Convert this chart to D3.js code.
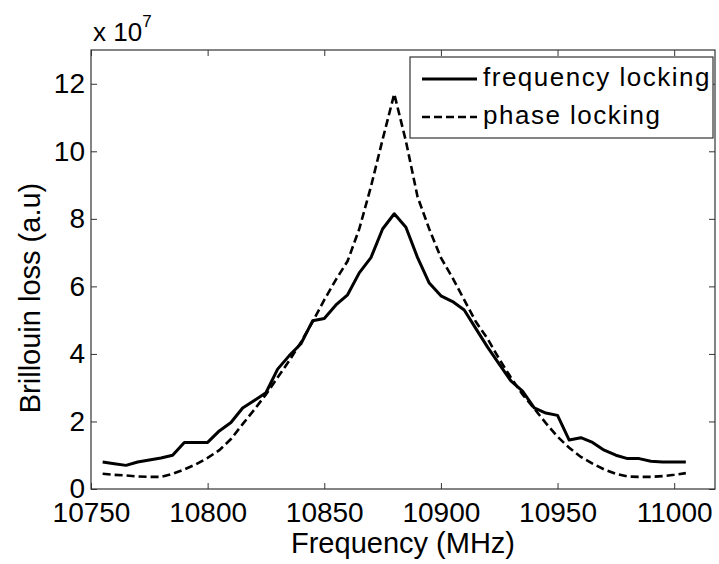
<!DOCTYPE html>
<html>
<head>
<meta charset="utf-8">
<script src="https://cdn.jsdelivr.net/npm/d3@7"></script>
<style>
  body { margin: 0; background: #fff; }
  text { font-family: Arial, "Liberation Sans", Helvetica, sans-serif; fill: #000; }
</style>
</head>
<body>
<div id="graphic"></div>
<script>
// frequency axis, MHz (one sample every 5 MHz)
var freqs = d3.range(10755, 11006, 5);

// Brillouin loss, units of 1e7
var freqLocking = [0.80, 0.75, 0.70, 0.80, 0.86, 0.92, 1.00, 1.38, 1.38, 1.38,
                   1.72, 1.97, 2.40, 2.62, 2.85, 3.55, 3.95, 4.30, 4.98, 5.05,
                   5.45, 5.75, 6.40, 6.85, 7.70, 8.15, 7.75, 6.85, 6.10, 5.72,
                   5.55, 5.30, 4.75, 4.20, 3.70, 3.20, 2.90, 2.40, 2.25, 2.18,
                   1.45, 1.52, 1.38, 1.15, 1.00, 0.90, 0.90, 0.82, 0.80, 0.80, 0.80];

var phaseLocking = [0.45, 0.42, 0.40, 0.37, 0.36, 0.36, 0.45, 0.58, 0.73, 0.92,
                    1.15, 1.48, 1.92, 2.35, 2.80, 3.30, 3.80, 4.35, 4.95, 5.60,
                    6.20, 6.75, 7.70, 8.95, 10.35, 11.70, 10.30, 8.65, 7.70, 6.85,
                    6.25, 5.60, 4.95, 4.45, 3.85, 3.30, 2.80, 2.38, 1.95, 1.55,
                    1.22, 0.95, 0.75, 0.58, 0.45, 0.37, 0.36, 0.36, 0.38, 0.42, 0.47];

var xTicks = [10750, 10800, 10850, 10900, 10950, 11000];
var yTicks = [0, 2, 4, 6, 8, 10, 12];
var seriesNames = ["frequency locking", "phase locking"];

var svg = d3.select("#graphic").append("svg")
        .attr("width", 719)
        .attr("height", 564);

var x = d3.scaleLinear().domain([10750, 11017.5]).range([91, 715]);
var y = d3.scaleLinear().domain([0, 13]).range([489, 50]);

var frameColor = "#333";

// axes, ticks pointing inward
svg.append("g")
        .attr("transform", "translate(0,489)")
        .call(d3.axisBottom(x).tickValues(xTicks).tickFormat(d3.format("d"))
                .tickSizeInner(-6).tickSizeOuter(0).tickPadding(13));
svg.append("g")
        .attr("transform", "translate(0,50)")
        .call(d3.axisTop(x).tickValues(xTicks).tickSizeInner(-6).tickSizeOuter(0).tickFormat(""));
svg.append("g")
        .attr("transform", "translate(91,0)")
        .call(d3.axisLeft(y).tickValues(yTicks).tickFormat(d3.format("d"))
                .tickSizeInner(-6).tickSizeOuter(0).tickPadding(6));
svg.append("g")
        .attr("transform", "translate(715,0)")
        .call(d3.axisRight(y).tickValues(yTicks).tickSizeInner(-6).tickSizeOuter(0).tickFormat(""));

svg.selectAll(".domain").remove();
svg.selectAll(".tick line").style("stroke", frameColor);
svg.selectAll(".tick text")
        .style("font-size", "28px")
        .style("font-family", "Arial, 'Liberation Sans', sans-serif");

// box
svg.append("rect")
        .attr("x", 91)
        .attr("y", 50)
        .attr("width", 715 - 91)
        .attr("height", 489 - 50)
        .style("fill", "none")
        .style("stroke", frameColor)
        .style("stroke-width", 1.2);

// lines
var line = function(vals) {
  return d3.line()
        .x(function(d, i) { return x(freqs[i]); })
        .y(function(d) { return y(d); })(vals);
};

svg.append("path")
        .attr("d", line(phaseLocking))
        .style("fill", "none")
        .style("stroke", "#000")
        .style("stroke-width", 2.6)
        .style("stroke-dasharray", "8,4");

svg.append("path")
        .attr("d", line(freqLocking))
        .style("fill", "none")
        .style("stroke", "#000")
        .style("stroke-width", 3)
        .style("stroke-linejoin", "round");

// exponent label
var expo = svg.append("text")
        .attr("x", 93)
        .attr("y", 41)
        .style("font-size", "26px");
expo.append("tspan").text("x 10");
expo.append("tspan")
        .attr("dy", -14)
        .style("font-size", "17px")
        .text("7");

// axis labels
svg.append("text")
        .attr("x", 403)
        .attr("y", 553)
        .attr("text-anchor", "middle")
        .style("font-size", "29px")
        .text("Frequency (MHz)");

svg.append("text")
        .attr("transform", "translate(40,298) rotate(-90)")
        .attr("text-anchor", "middle")
        .style("font-size", "29px")
        .text("Brillouin loss (a.u)");

// legend
var legend = svg.append("g");
legend.append("rect")
        .attr("x", 410)
        .attr("y", 57)
        .attr("width", 303)
        .attr("height", 81)
        .style("fill", "#fff")
        .style("stroke", frameColor)
        .style("stroke-width", 1.2);

var legendRows = legend.selectAll("g.row")
        .data(seriesNames)
        .enter().append("g")
        .attr("class", "row")
        .attr("transform", function(d, i) { return "translate(0," + (i === 0 ? 79 : 117) + ")"; });

legendRows.append("line")
        .attr("x1", 422)
        .attr("x2", 477)
        .style("stroke", "#000")
        .style("stroke-width", function(d, i) { return i === 0 ? 3 : 2.6; })
        .style("stroke-dasharray", function(d, i) { return i === 0 ? null : "8,4"; });

legendRows.append("text")
        .attr("x", 483)
        .attr("y", 7)
        .style("font-size", "26px")
        .style("letter-spacing", "1.5px")
        .text(function(d) { return d; });
</script>
</body>
</html>
